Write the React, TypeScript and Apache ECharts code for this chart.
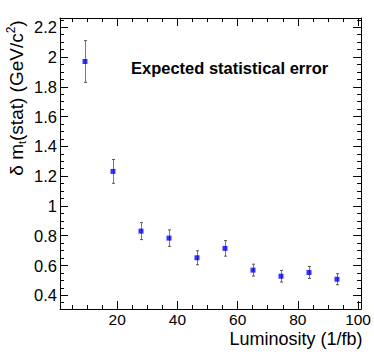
import React, { useEffect, useRef } from "react";
import * as echarts from "echarts";

// Data
const luminosity = [9.3, 18.6, 27.9, 37.2, 46.5, 55.8, 65.1, 74.4, 83.7, 93.0];
const deltaM = [1.97, 1.232, 0.831, 0.784, 0.652, 0.715, 0.569, 0.528, 0.553, 0.508];
const statError = [0.14, 0.08, 0.057, 0.055, 0.047, 0.052, 0.04, 0.039, 0.04, 0.037];

// Axis ranges and ticks
const xRange = [1, 101];
const yRange = [0.308, 2.262];
const xMajorTicks = [20, 40, 60, 80, 100];
const xMinorTicks = [5, 10, 15, 25, 30, 35, 45, 50, 55, 65, 70, 75, 85, 90, 95];
const yMajorTicks = [0.4, 0.6, 0.8, 1.0, 1.2, 1.4, 1.6, 1.8, 2.0, 2.2];
const yMinorTicks = [0.35, 0.45, 0.5, 0.55, 0.65, 0.7, 0.75, 0.85, 0.9, 0.95, 1.05, 1.1, 1.15, 1.25, 1.3, 1.35, 1.45, 1.5, 1.55, 1.65, 1.7, 1.75, 1.85, 1.9, 1.95, 2.05, 2.1, 2.15, 2.25];

const xTitle = "Luminosity (1/fb)";
const plotTitle = "Expected statistical error";

const FONT = "'Liberation Sans', Arial, Helvetica, sans-serif";

export default function App() {
  const ref = useRef<HTMLDivElement>(null);

  useEffect(() => {
    if (!ref.current) return;
    const chart = echarts.init(ref.current, undefined, { renderer: "svg" });

    const fmt = (v: number) => String(Math.round(v * 100) / 100);

    const mkX = (pos: "bottom" | "top", major: boolean, labels: boolean) => ({
      type: "value",
      position: pos,
      min: xRange[0],
      max: xRange[1],
      axisLine: { show: major, onZero: false, lineStyle: { color: "#000", width: 1 } },
      axisTick: {
        show: true,
        inside: true,
        length: major ? 8 : 4,
        customValues: major ? xMajorTicks : xMinorTicks,
        lineStyle: { color: "#000", width: 1 },
      },
      axisLabel: labels
        ? {
            show: true,
            customValues: xMajorTicks,
            margin: 4,
            lineHeight: 12,
            color: "#000",
            fontSize: 15.5,
            fontFamily: FONT,
            formatter: fmt,
          }
        : { show: false },
      splitLine: { show: false },
    });

    const mkY = (pos: "left" | "right", major: boolean, labels: boolean) => ({
      type: "value",
      position: pos,
      min: yRange[0],
      max: yRange[1],
      axisLine: { show: major, onZero: false, lineStyle: { color: "#000", width: 1 } },
      axisTick: {
        show: true,
        inside: true,
        length: major ? 8 : 4,
        customValues: major ? yMajorTicks : yMinorTicks,
        lineStyle: { color: "#000", width: 1 },
      },
      axisLabel: labels
        ? {
            show: true,
            customValues: yMajorTicks,
            margin: 3,
            color: "#000",
            fontSize: 16.5,
            fontFamily: FONT,
            formatter: fmt,
          }
        : { show: false },
      splitLine: { show: false },
    });

    const points = luminosity.map((l, i) => [l, deltaM[i]]);
    const errData = luminosity.map((l, i) => [l, deltaM[i], statError[i]]);

    chart.setOption({
      animation: false,
      backgroundColor: "#fff",
      grid: { left: 60, top: 18, width: 302, height: 291, containLabel: false },
      xAxis: [mkX("bottom", true, true), mkX("bottom", false, false), mkX("top", true, false), mkX("top", false, false)],
      yAxis: [mkY("left", true, true), mkY("left", false, false), mkY("right", true, false), mkY("right", false, false)],
      series: [
        {
          type: "custom",
          xAxisIndex: 0,
          yAxisIndex: 0,
          data: errData,
          z: 2,
          renderItem: (_params: any, api: any) => {
            const x = api.value(0);
            const y = api.value(1);
            const e = api.value(2);
            const top = api.coord([x, y + e]);
            const bot = api.coord([x, y - e]);
            const cx = Math.round(top[0]) + 0.5;
            return {
              type: "group",
              children: [
                {
                  type: "line",
                  shape: { x1: cx, y1: top[1], x2: cx, y2: bot[1] },
                  style: { stroke: "#7a7a7a", lineWidth: 1 },
                },
                {
                  type: "line",
                  shape: { x1: cx - 1.5, y1: top[1], x2: cx + 1.5, y2: top[1] },
                  style: { stroke: "#555", lineWidth: 1 },
                },
                {
                  type: "line",
                  shape: { x1: cx - 1.5, y1: bot[1], x2: cx + 1.5, y2: bot[1] },
                  style: { stroke: "#555", lineWidth: 1 },
                },
              ],
            };
          },
        },
        {
          type: "scatter",
          xAxisIndex: 0,
          yAxisIndex: 0,
          data: points,
          symbol: "rect",
          symbolSize: 5,
          itemStyle: { color: "#0000ff" },
          z: 3,
        },
      ],
      graphic: [
        {
          type: "text",
          x: 131,
          y: 68,
          style: {
            text: plotTitle,
            align: "left",
            verticalAlign: "middle",
            fill: "#000",
            fontSize: 16.5,
            fontWeight: "bold",
            fontFamily: FONT,
          },
        },
        {
          type: "text",
          x: 362.5,
          y: 338.5,
          style: {
            text: xTitle,
            align: "right",
            verticalAlign: "middle",
            fill: "#000",
            fontSize: 18,
            lineHeight: 13,
            fontFamily: FONT,
          },
        },
        {
          type: "text",
          x: 16,
          y: 98,
          rotation: Math.PI / 2,
          style: {
            text: "{a|δ m}{sub|t}{a|(stat) (GeV/c}{sup|2}{a|)}",
            align: "center",
            verticalAlign: "middle",
            fill: "#000",
            fontSize: 19,
            fontFamily: FONT,
            rich: {
              a: { fontSize: 19, fontFamily: FONT, fill: "#000", lineHeight: 22 },
              sub: { fontSize: 11, fontFamily: FONT, fill: "#000", verticalAlign: "bottom", lineHeight: 22 },
              sup: { fontSize: 12, fontFamily: FONT, fill: "#000", verticalAlign: "top", lineHeight: 22 },
            },
          },
        },
      ],
    });

    return () => chart.dispose();
  }, []);

  return (
    <div
      ref={ref}
      style={{ position: "fixed", left: 0, top: 0, width: 374, height: 356, background: "#fff" }}
    />
  );
}
